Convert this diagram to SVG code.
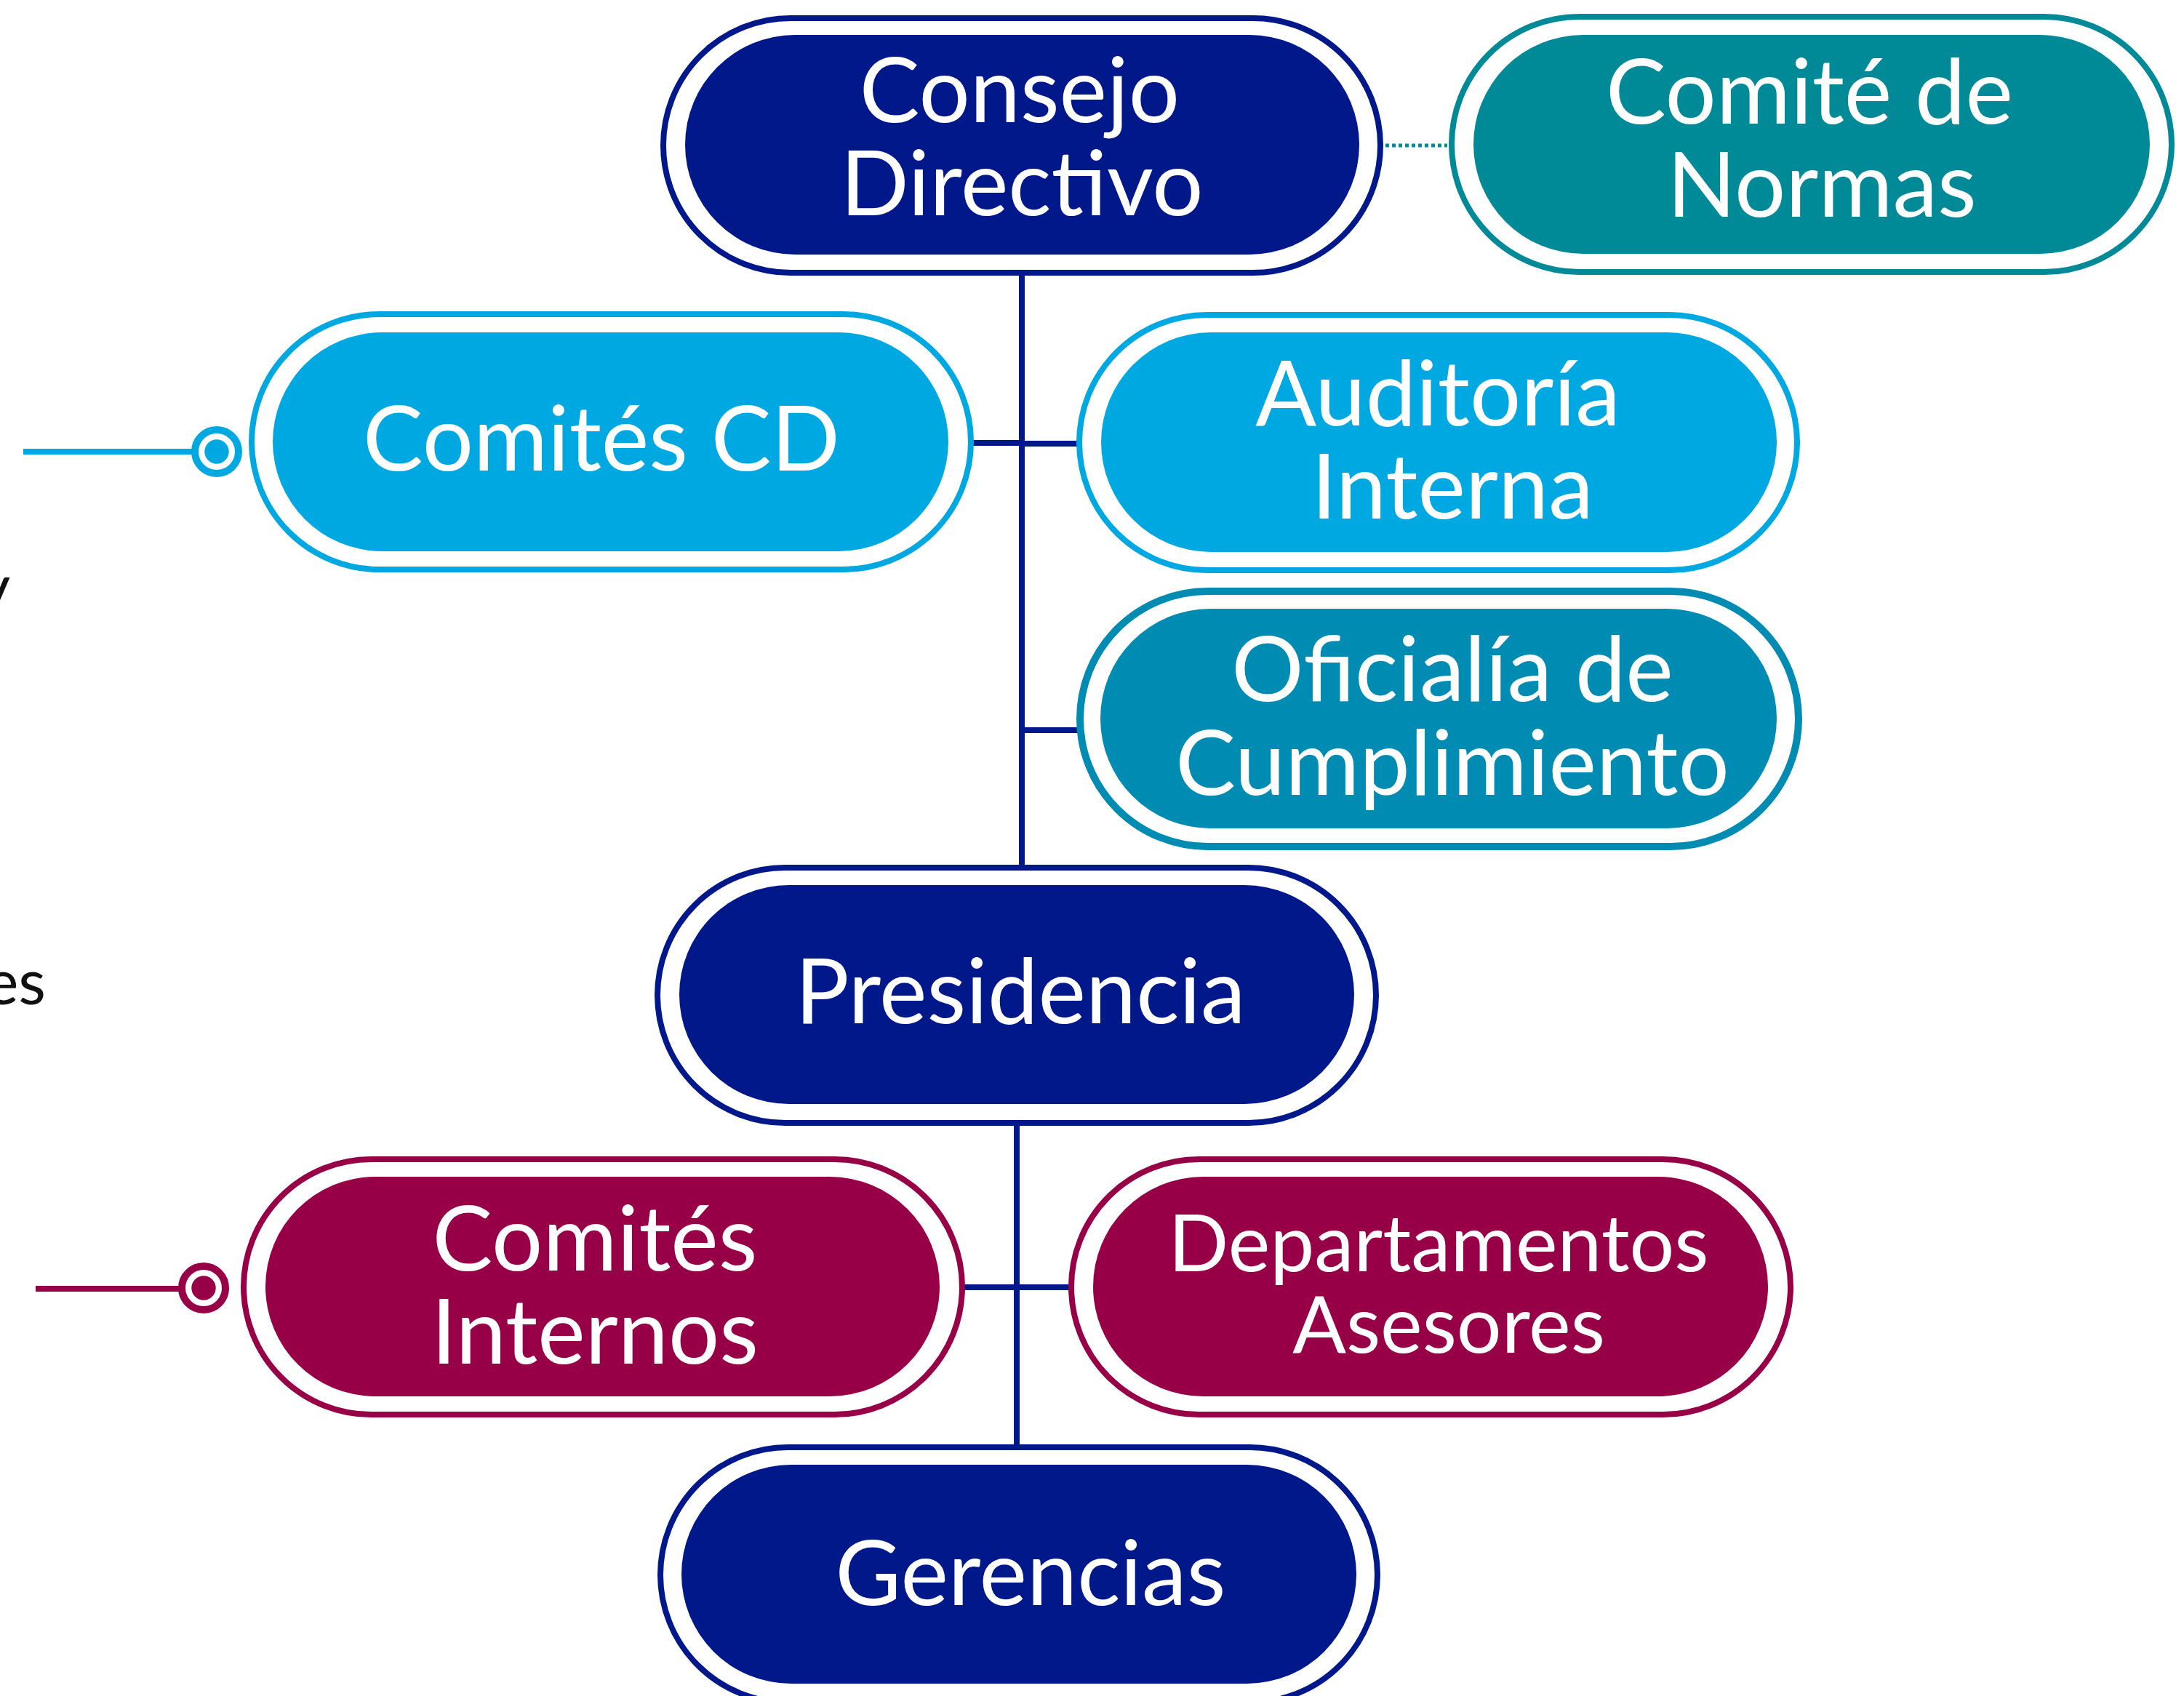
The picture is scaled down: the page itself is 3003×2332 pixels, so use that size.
<svg xmlns="http://www.w3.org/2000/svg" width="3003" height="2332" viewBox="0 0 3003 2332">
<style>
.lbl{font-family:Lato,"Liberation Sans",sans-serif;font-size:124px;fill:#ffffff;text-anchor:middle}
.sm{font-size:109px}
.ring{fill:none;stroke-width:8}
.navy .ring{stroke:#00188A}.navy .fill{fill:#00188A}
.sky .ring{stroke:#00A8E1}.sky .fill{fill:#00A8E1}
.teal .ring{stroke:#008A98}.teal .fill{fill:#008A98}
.ocean .ring{stroke:#008BB2;stroke-width:10}.ocean .fill{fill:#008BB2}
.wine .ring{stroke:#970047}.wine .fill{fill:#970047}
.link{stroke:#00188A;stroke-width:8;fill:none}
.stray{font-family:Lato,"Liberation Sans",sans-serif;font-size:87px;fill:#111111;text-anchor:end}
</style>
<rect width="3003" height="2332" fill="#ffffff"/>
<g id="connectors">
<line class="link" x1="1405" y1="375" x2="1405" y2="1193"/>
<line class="link" x1="1335" y1="609" x2="1405" y2="609"/>
<line class="link" x1="1405" y1="610" x2="1484" y2="610"/>
<line class="link" x1="1405" y1="1004" x2="1484" y2="1004"/>
<line class="link" x1="1398" y1="1544" x2="1398" y2="1990"/>
<line class="link" x1="1323" y1="1770" x2="1473" y2="1770"/>
<line x1="1905" y1="200" x2="1990" y2="200" stroke="#008A98" stroke-width="5" stroke-dasharray="5 4"/>
<g id="ext-cd">
<line x1="32" y1="621" x2="265" y2="621" stroke="#00A8E1" stroke-width="8"/>
<circle cx="298" cy="621" r="30" fill="#ffffff" stroke="#00A8E1" stroke-width="10"/>
<circle cx="298" cy="621" r="16.7" fill="#00A8E1"/>
</g>
<g id="ext-ci">
<line x1="49" y1="1772" x2="247" y2="1772" stroke="#970047" stroke-width="8"/>
<circle cx="280" cy="1771" r="30" fill="#ffffff" stroke="#970047" stroke-width="10"/>
<circle cx="280" cy="1771" r="16.7" fill="#970047"/>
</g>
</g>
<g id="consejo" class="navy">
<rect class="ring" x="912" y="25" width="986" height="350" rx="175"/>
<rect class="fill" x="942" y="48" width="927" height="302" rx="151"/>
<text class="lbl" x="1402" y="168">Consejo</text>
<text class="lbl" x="1405" y="296">Directivo</text>
</g>
<g id="normas" class="teal">
<rect class="ring" x="1996" y="23" width="990" height="351" rx="175.5"/>
<rect class="fill" x="2026" y="48" width="930" height="301" rx="150.5"/>
<text class="lbl" x="2488" y="170">Comité de</text>
<text class="lbl" x="2505" y="298">Normas</text>
</g>
<g id="comites-cd" class="sky">
<rect class="ring" x="346" y="432" width="989" height="351" rx="175.5"/>
<rect class="fill" x="375" y="457" width="929" height="301" rx="150.5"/>
<text class="lbl" x="827" y="647">Comités CD</text>
</g>
<g id="auditoria" class="sky">
<rect class="ring" x="1484" y="433" width="987" height="351" rx="175.5"/>
<rect class="fill" x="1514" y="457" width="929" height="302" rx="151"/>
<text class="lbl" x="1977" y="585">Auditoría</text>
<text class="lbl" x="1997" y="713">Interna</text>
</g>
<g id="oficialia" class="ocean">
<rect class="ring" x="1485" y="813" width="988" height="351" rx="175.5"/>
<rect class="fill" x="1513" y="837" width="930" height="302" rx="151"/>
<text class="lbl" x="1997" y="964">Oficialía de</text>
<text class="lbl" x="1997" y="1093">Cumplimiento</text>
</g>
<g id="presidencia" class="navy">
<rect class="ring" x="904" y="1193" width="988" height="351" rx="175.5"/>
<rect class="fill" x="934" y="1217" width="928" height="301" rx="150.5"/>
<text class="lbl" x="1403" y="1407">Presidencia</text>
</g>
<g id="comites-internos" class="wine">
<rect class="ring" x="335" y="1594" width="988" height="351" rx="175.5"/>
<rect class="fill" x="365" y="1618" width="927" height="302" rx="151"/>
<text class="lbl" x="818" y="1747">Comités</text>
<text class="lbl" x="818" y="1875">Internos</text>
</g>
<g id="departamentos" class="wine">
<rect class="ring" x="1473" y="1594" width="989" height="351" rx="175.5"/>
<rect class="fill" x="1503" y="1618" width="928" height="302" rx="151"/>
<text class="lbl sm" x="1978" y="1748">Departamentos</text>
<text class="lbl sm" x="1992" y="1860">Asesores</text>
</g>
<g id="gerencias" class="navy">
<rect class="ring" x="908" y="1990" width="986" height="351" rx="175.5"/>
<rect class="fill" x="937" y="2014" width="928" height="301" rx="150.5"/>
<text class="lbl" x="1417" y="2207">Gerencias</text>
</g>
<text class="stray" x="14" y="838">y</text>
<text class="stray" x="63" y="1381">es</text>
</svg>
